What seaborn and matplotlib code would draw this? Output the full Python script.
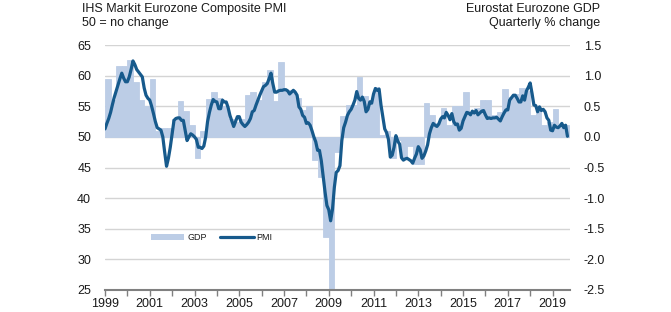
import numpy as np
import pandas as pd
import seaborn as sns
import matplotlib
matplotlib.use("Agg")
import matplotlib.pyplot as plt
from matplotlib.patches import Patch
from matplotlib.lines import Line2D

sns.set_theme(style="white")
plt.rcParams['font.family'] = ['Liberation Sans', 'DejaVu Sans']
plt.rcParams['axes.unicode_minus'] = False

bar_color = "#bccde6"
line_color = "#175a8c"
text_color = "#1a1a1a"

# Eurostat GDP, quarterly % change, 1999Q1 - 2019Q3
gdp_qoq = [
    0.95, 0.60, 1.15, 1.15,   # 1999
    1.25, 0.90, 0.60, 0.50,   # 2000
    0.95, 0.10, 0.15, 0.15,   # 2001
    0.30, 0.58, 0.43, 0.20,   # 2002
    -0.35, 0.10, 0.62, 0.74,  # 2003
    0.63, 0.50, 0.30, 0.25,   # 2004
    0.30, 0.69, 0.74, 0.60,   # 2005
    0.90, 1.10, 0.58, 1.22,   # 2006
    0.77, 0.77, 0.63, 0.44,   # 2007
    0.50, -0.37, -0.65, -1.64,  # 2008
    -3.00, -0.25, 0.34, 0.52,   # 2009
    0.52, 0.98, 0.66, 0.60,   # 2010
    0.82, 0.03, 0.10, -0.35,  # 2011
    -0.05, -0.35, -0.15, -0.45,  # 2012
    -0.45, 0.55, 0.36, 0.22,  # 2013
    0.47, 0.19, 0.50, 0.50,   # 2014
    0.74, 0.40, 0.47, 0.60,   # 2015
    0.60, 0.35, 0.40, 0.78,   # 2016
    0.65, 0.70, 0.80, 0.75,   # 2017
    0.35, 0.42, 0.20, 0.25,   # 2018
    0.45, 0.20, 0.20,         # 2019
]

# IHS Markit composite PMI, monthly, Jan 1999 - Sep 2019
pmi_1999_2003 = [
    51.3, 52.2, 53.0, 54.0, 55.3, 56.5, 57.5, 58.5, 59.5, 60.4, 59.6, 59.0,
    59.0, 59.8, 61.0, 62.4, 61.8, 61.0, 60.6, 60.2, 59.8, 58.0, 56.8, 56.3,
    56.0, 55.0, 53.8, 52.5, 51.5, 51.3, 51.1, 50.0, 47.5, 45.2, 46.5, 48.3,
    50.5, 52.7, 53.0, 53.1, 53.1, 52.7, 52.7, 51.0, 49.4, 50.0, 50.5, 50.3,
    50.0, 49.6, 48.3, 48.3, 48.1, 48.5, 50.0, 52.5, 54.0, 55.2, 56.1, 55.8,
]
pmi_2004_2008 = [
    55.7, 54.6, 54.6, 56.0, 55.7, 55.7, 54.8, 53.5, 52.6, 51.7, 52.5, 53.3,
    53.3, 52.4, 52.0, 51.7, 52.0, 52.4, 53.0, 54.1, 54.3, 55.2, 56.0, 56.8,
    57.5, 58.2, 58.4, 58.7, 59.5, 60.4, 58.7, 57.3, 57.3, 57.5, 57.6, 57.6,
    57.7, 57.7, 57.5, 57.0, 57.3, 57.6, 57.3, 56.8, 54.9, 54.5, 53.5, 53.2,
    52.2, 52.3, 51.9, 51.0, 50.0, 49.2, 47.8, 47.8, 46.1, 43.5, 41.0, 38.8,
]
pmi_2009_2013 = [
    38.1, 36.3, 38.2, 41.8, 44.2, 44.5, 45.3, 49.4, 51.5, 52.4, 53.5, 54.1,
    54.5, 55.2, 56.0, 57.4, 56.3, 56.0, 56.5, 55.8, 54.1, 54.5, 55.7, 55.5,
    57.0, 57.9, 57.6, 57.8, 55.2, 53.3, 51.3, 50.7, 49.6, 46.7, 47.0, 48.3,
    50.2, 49.3, 48.8, 46.6, 46.2, 46.4, 46.5, 46.3, 46.1, 45.7, 46.5, 47.2,
    48.4, 47.9, 46.5, 46.9, 47.7, 48.7, 50.5, 51.5, 52.2, 51.9, 51.7, 52.1,
]
pmi_2014_2019 = [
    52.9, 53.3, 53.1, 54.0, 53.5, 52.8, 53.8, 52.5, 52.0, 52.1, 51.1, 51.4,
    52.6, 53.3, 54.0, 53.9, 53.6, 54.2, 53.9, 54.3, 53.6, 53.9, 54.2, 54.3,
    53.6, 53.0, 53.1, 53.0, 53.1, 53.1, 53.2, 52.9, 52.6, 53.3, 53.9, 54.4,
    54.4, 56.0, 56.4, 56.8, 56.8, 56.3, 55.7, 55.7, 56.7, 56.0, 57.5, 58.1,
    58.8, 57.1, 55.2, 55.1, 54.1, 54.9, 54.3, 54.5, 54.1, 53.1, 52.7, 51.1,
    51.0, 51.9, 51.6, 51.5, 51.8, 52.2, 51.5, 51.9, 50.1,
]
pmi = pmi_1999_2003 + pmi_2004_2008 + pmi_2009_2013 + pmi_2014_2019

start_year = 1999
df_gdp = pd.DataFrame({
    "t": start_year + np.arange(len(gdp_qoq)) / 4 + 0.125,
    "gdp": gdp_qoq,
})
df_pmi = pd.DataFrame({
    "t": start_year + np.arange(len(pmi)) / 12,
    "pmi": pmi,
})

fig = plt.figure(figsize=(6.71, 3.12), dpi=100)
ax = fig.add_axes([105 / 671, 22 / 312, 465 / 671, 245 / 312])

# GDP bars (right scale)
sns.barplot(data=df_gdp, x="t", y="gdp", native_scale=True, width=1,
            color=bar_color, saturation=1, errorbar=None,
            linewidth=0.6, edgecolor=bar_color, ax=ax)
ax.set_ylim(-2.5, 1.5)
ax.set_xlim(1999, 2019.78)
ax.yaxis.tick_right()
gdp_ticks = np.arange(-2.5, 1.51, 0.5)
ax.set_yticks(gdp_ticks)
ax.set_yticklabels([f"{v:.1f}" for v in gdp_ticks])
ax.grid(axis="y", color="#d4d4d4", lw=1)
ax.set_axisbelow(True)
ax.set_xlabel("")
ax.set_ylabel("")

# PMI line (left scale)
ax2 = ax.twinx()
sns.lineplot(data=df_pmi, x="t", y="pmi", color=line_color, lw=2.3, ax=ax2)
ax2.set_ylim(25, 65)
ax2.yaxis.tick_left()
ax2.set_yticks(range(25, 66, 5))
ax2.set_ylabel("")
ax2.set_xlabel("")

for a in (ax, ax2):
    for s in a.spines.values():
        s.set_visible(False)
ax.spines["bottom"].set_visible(True)
ax.spines["bottom"].set_color("#808080")
ax.spines["bottom"].set_linewidth(1.5)

ax.set_xticks(range(1999, 2020, 2))
ax.set_xticks(range(1999, 2020), minor=True)
ax.set_xticklabels([str(y) for y in range(1999, 2020, 2)])
ax.tick_params(axis="x", which="both", bottom=True, direction="out", length=4,
               width=1, color="#808080", labelsize=9, labelcolor=text_color, pad=2)
ax.tick_params(axis="y", left=False, right=False, labelright=True, labelleft=False,
               length=0, pad=10, labelsize=9, labelcolor=text_color)
ax2.tick_params(axis="y", left=False, right=False, labelleft=True, labelright=False,
                length=0, pad=10, labelsize=9, labelcolor=text_color)

handles = [Patch(facecolor=bar_color, edgecolor="none"),
           Line2D([], [], color=line_color, lw=2.3)]
ax2.legend(handles, ["GDP", "PMI"], ncol=2, frameon=False, fontsize=6.5,
           handlelength=3.7, handleheight=0.75, handletextpad=0.35,
           columnspacing=1.5, loc="center left", bbox_to_anchor=(0.098, 0.214),
           borderaxespad=0, borderpad=0, labelcolor=text_color)

fig.text(82 / 671, 1 - 9 / 312, "IHS Markit Eurozone Composite PMI",
         ha="left", va="center", fontsize=9, color=text_color)
fig.text(82 / 671, 1 - 23 / 312, "50 = no change",
         ha="left", va="center", fontsize=9, color=text_color)
fig.text(600 / 671, 1 - 9 / 312, "Eurostat Eurozone GDP",
         ha="right", va="center", fontsize=9, color=text_color)
fig.text(600 / 671, 1 - 23 / 312, "Quarterly % change",
         ha="right", va="center", fontsize=9, color=text_color)

fig.savefig("out.png", dpi=100)
